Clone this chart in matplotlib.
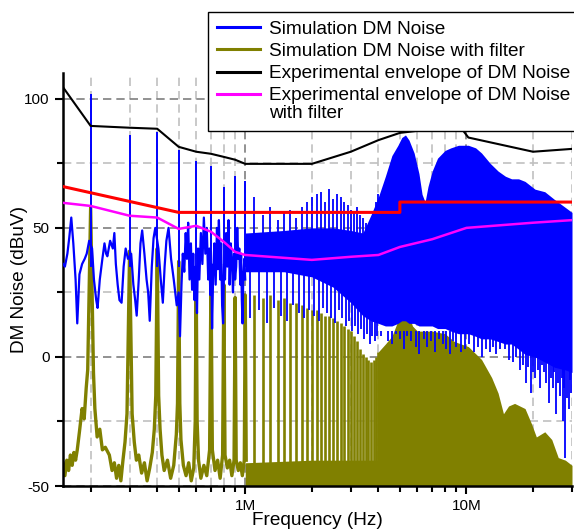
import numpy as np
import matplotlib
matplotlib.use("Agg")
import matplotlib.pyplot as plt
from matplotlib.lines import Line2D
from matplotlib.legend_handler import HandlerLine2D
from matplotlib.ticker import MultipleLocator, LogLocator, NullFormatter, FuncFormatter

plt.rcParams["font.family"] = "Liberation Sans"
plt.rcParams["axes.unicode_minus"] = False

f0 = 100e3  # switching frequency, harmonics sit at n * f0

# ---- Simulation DM Noise (blue) ----
sim_harm_low = [2, 3, 4, 5, 6, 7, 8, 9, 10]
sim_peak_low = [102, 86, 87, 80, 76, 74, 66, 70, 68]
sim_floor_khz = [150, 153, 157, 160, 163.5, 167, 171, 174, 178, 183, 188, 192, 197, 203, 207, 212,
                 215, 220, 226, 231, 235, 238, 245, 252, 256, 260, 265, 270, 276, 282, 288, 295,
                 305, 312, 318, 323, 330, 336, 342, 350, 358, 364, 370, 378, 385, 392, 405, 415,
                 424, 432, 440, 450, 462, 475, 490, 500, 507, 515, 522, 530, 538, 545, 552, 560,
                 568, 575, 582, 590, 597, 605, 612, 620, 630, 640, 650, 660, 670, 680, 688, 695,
                 702, 708, 716, 725, 735, 745, 752, 760, 770, 778, 786, 794, 802, 810, 820, 830,
                 840, 850, 860, 870, 880, 890, 900, 910, 920, 930, 940, 950, 958, 965, 972, 979,
                 990, 1000]
sim_floor_db = [36, 35, 40, 46, 54, 44, 30, 13, 32, 36, 38, 40, 45, 42, 30, 22,
                19, 30, 38, 44, 40, 39, 45, 42, 48, 36, 28, 22, 21, 35, 42, 38,
                40, 28, 22, 16, 30, 44, 49, 40, 30, 25, 14, 35, 46, 50, 42, 30,
                21, 35, 45, 50, 38, 30, 20, 25, 8, 28, 40, 33, 48, 38, 52, 30,
                44, 26, 40, 22, 35, 17, 42, 30, 48, 36, 54, 40, 50, 30, 42, 24,
                36, 11, 32, 44, 28, 50, 34, 53, 30, 44, 20, 13, 36, 30, 48, 35,
                53, 28, 44, 38, 25, 40, 30, 35, 50, 38, 42, 28, 40, 22, 13, 30,
                38, 30]
sim_harm_mid = list(range(11, 41))
sim_peak_mid = [62, 55, 58, 53, 56, 57, 54, 58, 60, 62,
                63, 64, 60, 65, 61, 63, 62, 60, 59, 57,
                56, 58, 55, 54, 52, 50, 51, 54, 60, 63]
sim_dip_mid = [15, 18, 13, 19, 16, 14, 20, 17, 15, 18,
               16, 14, 19, 17, 15, 13, 18, 15, 12, 14,
               10, 12, 9, 11, 7, 9, 5, 8, 6, 8]
sim_env_mhz = [1.0, 1.5, 2.0, 2.5, 3.0, 3.4, 3.7, 4.0, 4.3, 4.6, 4.9, 5.1, 5.3, 5.5, 5.8, 6.1, 6.3,
               6.5, 6.7, 7.0, 7.4, 8.0, 8.5, 9.2, 10.2, 11.0, 11.7, 12.8, 13.9, 15.0, 16.0, 17.2,
               18.4, 20.4, 22.6, 25.0, 27.9, 30.0]
sim_env_top = [48, 49, 50, 50, 49, 48, 55, 62, 70, 78, 82, 85, 86, 84, 79, 71, 63,
               60, 66, 72, 77, 80, 81, 82, 82, 81, 79, 75, 72, 70, 69, 69,
               68, 65, 64, 61, 58, 56]
sim_env_bot = [33, 33, 31, 27, 21, 16, 14, 13, 12, 12, 13, 14, 14, 13, 13, 12, 12,
               12, 12, 12, 11, 11, 10, 9, 9, 8, 7, 7, 6, 5, 5, 3,
               1, 0, -2, -4, -5, -6]
sim_dip_hf_mhz = [4.1, 4.2, 4.4, 4.6, 4.8, 5.0, 5.2, 5.4, 5.6, 5.9, 6.1, 6.4, 6.6, 6.9, 7.2, 7.5,
                  7.8, 8.1, 8.4, 8.7, 9.0, 9.4, 9.8, 10.3, 10.8, 11.3, 11.8, 12.3, 12.8, 13.2,
                  13.6, 14.2, 15.0, 15.6, 16.2, 16.8, 17.5, 18.0, 18.5, 19.0, 19.5, 20.0, 20.5,
                  21.0, 21.5, 22.0, 22.5, 23.0, 23.5, 24.0, 24.5, 25.0, 25.5, 26.0, 26.5, 27.0,
                  27.3, 27.7, 28.0, 28.5, 29.0, 29.4, 29.7]
sim_dip_hf_db = [8, 10, 6, 5, 9, 7, 3, 8, 6, 4, 1, 7, 4, 6, 2, 7,
                 5, 3, 1, 6, 4, 2, 3, 5, 2, 4, 0, 3, 2, 4,
                 1, 3, 3, -1, -2, 0, -5, -3, -10, -4, -14, -6, -8,
                 -5, -12, -3, -6, -10, -18, -8, -12, -6, -22, -10, -15, -8,
                 -25, -12, -39, -16, -20, -9, -14]

# ---- Simulation DM Noise with filter (olive) ----
filt_low_khz = [150, 153, 156, 159, 162, 165, 168, 171, 174, 178, 183, 187, 191, 194, 200, 206,
                209, 214, 220, 226, 233, 243, 250, 256, 262, 268, 274, 280, 286, 292, 300, 308,
                315, 322, 330, 340, 350, 360, 370, 380, 388, 394, 400, 406, 412, 420, 430, 445,
                460, 475, 488, 494, 500, 506, 512, 525, 540, 555, 570, 585, 594, 600, 606, 615,
                630, 650, 670, 690, 700, 710, 730, 750, 770, 790, 800, 810, 830, 850, 870, 890,
                900, 910, 930, 950, 970, 990, 1000, 1010]
filt_low_db = [-41, -46, -40, -44, -38, -42, -37, -40, -36, -29, -20, -24, -12, -5, 58, -6,
               -20, -31, -28, -36, -35, -38, -44, -41, -47, -42, -48, -40, -33, -22, 41, -22,
               -33, -40, -38, -45, -41, -48, -43, -37, -28, -15, 42, -15, -28, -38, -44, -40,
               -47, -42, -30, -18, 37, -18, -32, -42, -46, -41, -48, -43, -25, 31, -25, -40,
               -47, -42, -46, -36, 32, -36, -44, -40, -47, -38, 28, -38, -43, -40, -46, -40,
               23, -40, -44, -41, -46, -40, 24, -40]
filt_peak_mid = [24, 23, 24, 22, 23, 21, 21, 20, 19, 18,
                 18, 17, 16, 16, 15, 14, 13, 12, 11, 10,
                 8, 6, 3, 1, 0, -1, -2, -1, 0, 2]
filt_env_mhz = [1.0, 2.0, 3.0, 3.95, 4.0, 4.3, 4.6, 4.9, 5.1, 5.25, 5.5, 5.7, 6.0, 7.0, 8.0, 8.8,
                10.2, 11.7, 13.0, 13.9, 14.7, 15.5, 16.5, 18.4, 19.7, 20.7, 22.6, 24.3, 26.0,
                28.0, 30.0]
filt_env_db = [-41, -40, -40, -40, 2, 5, 8, 14, 19, 21, 16, 12, 10, 10, 9, 6,
               4, -1, -8, -14, -22, -19, -18, -20, -26, -31, -29, -32, -39,
               -40, -42]

# ---- envelopes and limit ----
exp_mhz = [0.15, 0.2, 0.3, 0.4, 0.5, 0.6, 0.7, 0.8, 0.9, 1, 2, 3, 4, 5, 6, 8, 9.5, 10.2, 20, 30]
exp_db = [104.5, 89.5, 88.8, 88.4, 81.4, 79.5, 78.7, 77.5, 76.4, 74.8, 74.8, 79.5, 84, 86.8,
          87.6, 88.5, 88.5, 85, 79.5, 80.6]
exp_filt_mhz = [0.15, 0.2, 0.3, 0.4, 0.5, 0.6, 0.7, 0.8, 0.9, 1, 2, 3, 4, 5, 7, 10, 20, 30]
exp_filt_db = [59.7, 58.5, 54.7, 54, 49.6, 50.8, 48.5, 44.6, 40.7, 39.5, 37.6, 38.8, 39.5,
               42.6, 45.6, 50, 52, 53]
limit_mhz = [0.15, 0.5, 5, 5, 30]
limit_db = [66, 56, 56, 60, 60]

BLUE = "#0000ff"
OLIVE = "#808000"


class TopLineHandler(HandlerLine2D):
    # put the legend line next to the first row of a two-line label
    def create_artists(self, legend, orig_handle, xdescent, ydescent, width, height, fontsize, trans):
        arts = super().create_artists(legend, orig_handle, xdescent, ydescent, width, height,
                                      fontsize, trans)
        for a in arts:
            a.set_ydata(np.asarray(a.get_ydata()) + 0.55 * fontsize)
        return arts


fig = plt.figure(figsize=(5.74, 5.30), dpi=100)
ax = fig.add_axes([63 / 574, 1 - 486 / 530, 509 / 574, 413 / 530])

# olive (behind)
ax.plot(np.array(filt_low_khz) * 1e3, filt_low_db, color=OLIVE, lw=2.4, zorder=2)
ax.fill_between(np.array(filt_env_mhz) * 1e6, -60, filt_env_db, color=OLIVE, lw=0, zorder=2)
ax.vlines(np.array(sim_harm_mid) * f0, -41, filt_peak_mid, color=OLIVE, lw=1.9, zorder=2)

# blue
ax.plot(np.array(sim_floor_khz) * 1e3, sim_floor_db, color=BLUE, lw=1.6, zorder=3)
ax.vlines(np.array(sim_harm_low) * f0, 35, sim_peak_low, color=BLUE, lw=1.4, zorder=3)
ax.fill_between(np.array(sim_env_mhz) * 1e6, sim_env_bot, sim_env_top, color=BLUE, lw=0, zorder=3)
ax.vlines(np.array(sim_harm_mid) * f0, 40, sim_peak_mid, color=BLUE, lw=1.3, zorder=3)
ax.vlines((np.array(sim_harm_mid) - 0.5) * f0, 35, sim_dip_mid, color=BLUE, lw=1.3, zorder=3)
ax.vlines(np.array(sim_dip_hf_mhz) * 1e6, 10, sim_dip_hf_db, color=BLUE, lw=1.3, zorder=3)

# envelopes
ax.plot(np.array(limit_mhz) * 1e6, limit_db, color="#ff0000", lw=2.2, zorder=4)
ax.plot(np.array(exp_filt_mhz) * 1e6, exp_filt_db, color="#ff00ff", lw=1.8, zorder=5)
ax.plot(np.array(exp_mhz) * 1e6, exp_db, color="black", lw=1.5, zorder=5)

ax.set_xscale("log")
ax.set_xlim(1.5e5, 3e7)
ax.set_ylim(-50, 110)

ax.xaxis.set_major_locator(LogLocator(base=10, subs=(1.0,)))
ax.xaxis.set_minor_locator(LogLocator(base=10, subs=np.arange(2, 10)))
ax.xaxis.set_major_formatter(FuncFormatter(lambda v, p: f"{v / 1e6:g}M"))
ax.xaxis.set_minor_formatter(NullFormatter())
ax.yaxis.set_major_locator(MultipleLocator(50))
ax.yaxis.set_minor_locator(MultipleLocator(25))

ax.grid(which="major", color="#7f7f7f", ls=(0, (5, 3)), lw=1.2, zorder=0)
ax.grid(which="minor", color="#c0c0c0", ls=(0, (5, 3)), lw=1.2, zorder=0)
ax.set_axisbelow(True)

for s in ("top", "right"):
    ax.spines[s].set_visible(False)
ax.spines["left"].set_linewidth(1.8)
ax.spines["bottom"].set_linewidth(1.8)
ax.tick_params(which="major", direction="out", length=6, width=1.5, labelsize=11, colors="black")
ax.tick_params(which="minor", direction="out", length=4, width=1.5)

ax.set_xlabel("Frequency (Hz)", fontsize=13.7, labelpad=-1)
ax.set_ylabel("DM Noise (dBuV)", fontsize=13.7, labelpad=-3)

filt_env_handle = Line2D([], [], color="#ff00ff", lw=2.2)
handles = [Line2D([], [], color=BLUE, lw=2.2),
           Line2D([], [], color=OLIVE, lw=2.2),
           Line2D([], [], color="black", lw=2.2),
           filt_env_handle]
labels = ["Simulation DM Noise", "Simulation DM Noise with filter",
          "Experimental envelope of DM Noise", "Experimental envelope of DM Noise\nwith filter"]
leg = fig.legend(handles, labels, loc="upper left", bbox_to_anchor=(208 / 574, 1 - 12 / 530),
                 borderaxespad=0, fontsize=13.7, fancybox=False, framealpha=1, edgecolor="black",
                 borderpad=0.45, labelspacing=0.26, handlelength=2.3, handletextpad=0.45,
                 handler_map={filt_env_handle: TopLineHandler()})
leg.get_frame().set_linewidth(1.0)
for t in leg.get_texts():
    t.set_linespacing(1.05)

fig.savefig("out.png", dpi=100)
